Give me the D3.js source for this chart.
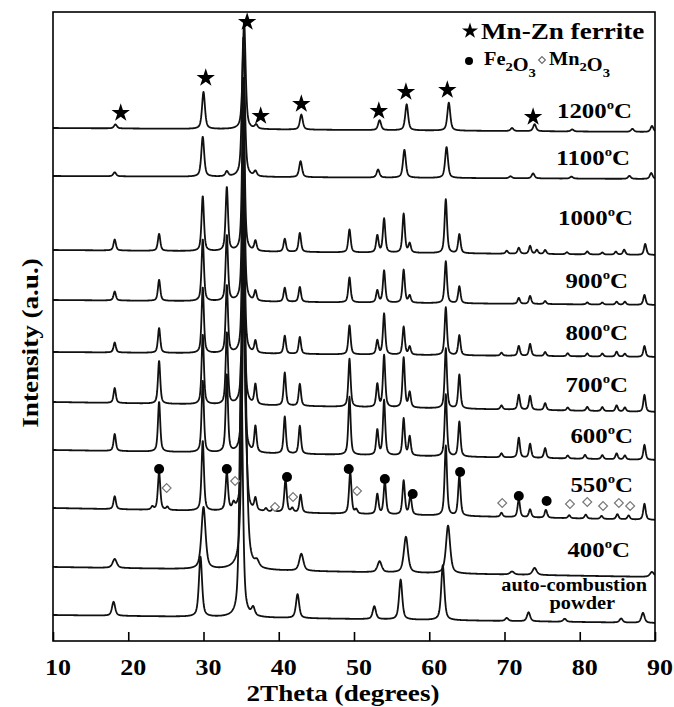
<!DOCTYPE html>
<html>
<head>
<meta charset="utf-8">
<script src="https://cdn.jsdelivr.net/npm/d3@7"></script>
<style>
  body { margin: 0; background: #fff; }
  text { font-family: "Liberation Serif", "Times New Roman", serif; font-weight: bold; fill: #000; }
</style>
</head>
<body>
<svg id="chart" width="674" height="707"></svg>
<script>
// ---- data (2theta in degrees, intensity in a.u.) ----
const xTicks = [10, 20, 30, 40, 50, 60, 70, 80, 90];

const sampleNames = ["auto-combustion powder", "400", "550", "600", "700", "800", "900", "1000", "1100", "1200"];
const baseStart = [26, 74, 133, 191, 239, 289, 341, 391, 465, 513];
const baseEnd = [18, 64, 121, 181, 229, 284, 336, 386, 462, 509];
const peakWidth = [0.5, 0.65, 0.38, 0.36, 0.36, 0.36, 0.37, 0.38, 0.45, 0.46];

const peaksAuto = [[18.05, 14], [29.6, 60], [35.0, 260], [36.6, 8], [42.5, 24], [52.7, 13], [56.2, 40],
  [61.8, 55], [70.3, 3], [73.2, 9], [78.0, 3], [85.5, 4], [88.4, 10]];
const peaks400 = [[18.2, 9], [30.0, 62], [35.4, 280], [37.1, 6], [43.0, 17], [53.4, 11], [56.9, 36],
  [62.5, 48], [71.0, 3], [74.0, 7], [89.6, 5]];
const peaks550 = [[18.2, 13], [23.2, 3], [24.1, 38], [25.2, 3], [29.9, 70], [33.1, 38], [34.0, 6],
  [35.3, 300], [35.7, 30], [36.9, 12], [38.3, 3], [39.3, 4], [40.9, 33], [41.8, 4], [42.9, 18],
  [49.5, 42], [50.3, 4], [53.1, 20], [54.1, 33], [56.6, 34], [57.5, 19], [62.2, 70], [64.0, 40],
  [69.6, 4], [71.9, 18], [73.4, 8], [75.5, 8], [78.6, 3], [80.8, 4], [82.9, 3], [85.0, 5], [86.5, 4], [88.6, 16]];
const peaks600 = [[18.2, 17], [24.1, 50], [29.9, 72], [33.1, 78], [35.3, 260], [36.9, 26], [40.8, 37],
  [42.8, 28], [49.4, 58], [53.1, 25], [54.0, 55], [56.6, 37], [57.4, 19], [62.2, 62], [64.0, 35],
  [69.6, 4], [71.9, 20], [73.4, 14], [75.4, 10], [78.4, 3], [80.7, 4], [83.0, 4], [84.9, 6], [86.0, 4], [88.6, 15]];
const peaks700 = [[18.2, 15], [24.1, 43], [29.9, 70], [33.1, 72], [35.3, 240], [36.9, 20], [40.8, 33],
  [42.8, 22], [49.4, 48], [53.1, 23], [54.0, 52], [56.6, 50], [57.4, 15], [62.2, 60], [64.0, 34],
  [69.6, 4], [71.9, 15], [73.4, 14], [75.4, 7], [78.4, 3], [81.0, 4], [83.0, 4], [84.9, 6], [86.0, 4], [88.6, 17]];
const peaks800 = [[18.2, 10], [24.1, 25], [29.9, 66], [33.1, 68], [35.3, 220], [36.9, 12], [40.8, 18],
  [42.8, 17], [49.4, 29], [53.1, 14], [54.0, 41], [56.6, 28], [57.4, 8], [62.2, 48], [64.0, 20],
  [69.6, 3], [71.9, 10], [73.4, 12], [75.4, 4], [78.4, 3], [81.0, 3], [83.0, 3], [84.9, 5], [86.0, 3], [88.6, 11]];
const peaks900 = [[18.2, 9], [24.1, 21], [29.9, 62], [33.1, 66], [35.3, 200], [36.9, 10], [40.8, 14],
  [42.8, 15], [49.4, 25], [53.1, 12], [54.0, 32], [56.6, 33], [57.4, 7], [62.2, 42], [64.0, 17],
  [71.9, 6], [73.4, 8], [75.4, 3], [81.0, 2], [83.0, 2], [84.9, 3], [86.0, 3], [88.6, 10]];
const peaks1000 = [[18.2, 11], [24.1, 17], [29.9, 55], [33.1, 64], [35.3, 175], [36.9, 10], [40.8, 13],
  [42.8, 19], [49.4, 23], [53.1, 17], [54.0, 34], [56.6, 39], [57.4, 9], [62.2, 54], [64.0, 19],
  [70.3, 3], [71.9, 6], [73.4, 8], [74.3, 4], [75.4, 4], [78.3, 2], [81.0, 3], [83.0, 2], [84.8, 3], [85.9, 5], [88.7, 11]];
const peaks1100 = [[18.2, 4], [29.9, 40], [33.1, 5], [35.3, 140], [36.9, 5], [42.9, 16], [53.2, 8],
  [56.7, 28], [62.3, 31], [70.8, 2], [73.8, 5], [78.9, 2], [86.6, 3], [89.5, 6]];
const peaks1200 = [[18.3, 4], [30.0, 37], [35.4, 108], [37.0, 4], [43.0, 15], [53.4, 10], [57.0, 26],
  [62.6, 28], [71.0, 3], [74.0, 7], [79.0, 2], [87.0, 3], [89.6, 6]];

const peakLists = [peaksAuto, peaks400, peaks550, peaks600, peaks700, peaks800, peaks900, peaks1000, peaks1100, peaks1200];

// phase markers: [2theta, intensity level]
const ferriteStars = [[19.0, 528], [30.3, 563], [35.8, 619], [37.6, 525], [43.0, 537], [53.3, 530],
  [56.9, 549], [62.4, 551], [73.8, 524]];
const fe2o3Dots = [[24.1, 172], [33.1, 172], [41.1, 164], [49.3, 172], [54.1, 162], [57.8, 147],
  [64.1, 169], [71.9, 145], [75.6, 140]];
const mn2o3Diamonds = [[25.1, 153], [34.2, 160], [39.5, 134], [41.9, 144], [50.4, 150], [69.7, 138],
  [78.7, 137], [81.0, 139], [83.1, 135], [85.2, 138], [86.7, 135]];

// temperature labels (level of text baseline, a.u.)
const tempLabels = ["400", "550", "600", "700", "800", "900", "1000", "1100", "1200"];
const tempLevels = [84, 149, 198, 249, 301, 353, 416, 476, 523];
const tempRight = [630, 633, 633, 628, 628, 628, 633, 630, 632];

// ---- layout ----
const svg = d3.select("#chart");
const plotLeft = 53, plotRight = 655, plotTop = 12, plotBottom = 641;
const sx = 1.13; // horizontal stretch of the serif lettering

const x = d3.scaleLinear().domain([10, 90]).range([plotLeft, plotRight]);
const y = d3.scaleLinear().domain([0, 629]).range([plotBottom, plotTop]);

svg.append("defs").append("clipPath").attr("id", "plot-clip")
  .append("rect").attr("x", plotLeft).attr("y", plotTop)
  .attr("width", plotRight - plotLeft).attr("height", plotBottom - plotTop);

const grid = d3.range(10, 90.0001, 0.04);

// pseudo-Voigt peak profile over a sloping background
function profile(peaks, w, b0, b1) {
  return grid.map(t => {
    let v = b0 + (b1 - b0) * (t - 10) / 80;
    for (const [c, h] of peaks) {
      const d = (t - c) / w;
      const q = 4 * d * d;
      v += h * (0.4 * Math.exp(-Math.LN2 * q) + 0.6 / (1 + q));
    }
    return [t, v];
  });
}

const line = d3.line().x(d => x(d[0])).y(d => y(d[1]));

const traces = svg.append("g").attr("clip-path", "url(#plot-clip)");
peakLists.forEach((peaks, i) => {
  traces.append("path")
    .datum(profile(peaks, peakWidth[i], baseStart[i], baseEnd[i]))
    .attr("fill", "none")
    .attr("stroke", "#111")
    .attr("stroke-width", 1.8)
    .attr("stroke-linejoin", "round")
    .attr("d", line);
});

// frame and ticks
svg.append("rect")
  .attr("x", plotLeft).attr("y", plotTop)
  .attr("width", plotRight - plotLeft).attr("height", plotBottom - plotTop)
  .attr("fill", "none").attr("stroke", "#000").attr("stroke-width", 1.6);

const axis = svg.append("g").attr("transform", `translate(0,${plotBottom})`)
  .call(d3.axisBottom(x).tickValues(xTicks).tickSize(-9).tickFormat(""));
axis.select(".domain").remove();
axis.selectAll("line").attr("stroke", "#000").attr("stroke-width", 1.6);

function stretchedText(px, py, size, anchor) {
  return svg.append("text")
    .attr("transform", `translate(${px},${py}) scale(${sx},1)`)
    .attr("font-size", size)
    .attr("text-anchor", anchor);
}

xTicks.forEach(t => {
  stretchedText(x(t) + 5, 675, 23, "middle").text(t);
});

stretchedText(343, 701, 24, "middle").text("2Theta (degrees)");

svg.append("text")
  .attr("transform", `translate(38,343) rotate(-90) scale(${sx},1)`)
  .attr("font-size", 24)
  .attr("text-anchor", "middle")
  .text("Intensity (a.u.)");

// phase markers
const star = d3.symbol().type(d3.symbolStar);
svg.append("g").selectAll("path").data(ferriteStars).join("path")
  .attr("transform", d => `translate(${x(d[0])},${y(d[1])})`)
  .attr("d", star.size(105)())
  .attr("fill", "#000");

svg.append("g").selectAll("circle").data(fe2o3Dots).join("circle")
  .attr("cx", d => x(d[0])).attr("cy", d => y(d[1])).attr("r", 5)
  .attr("fill", "#000");

const diamond = d3.symbol().type(d3.symbolDiamond2);
svg.append("g").selectAll("path").data(mn2o3Diamonds).join("path")
  .attr("transform", d => `translate(${x(d[0])},${y(d[1])})`)
  .attr("d", diamond.size(50)())
  .attr("fill", "#fff").attr("stroke", "#777").attr("stroke-width", 1.2);

// temperature labels
tempLabels.forEach((lab, i) => {
  const t = stretchedText(tempRight[i], y(tempLevels[i]), 22, "end");
  t.append("tspan").text(lab);
  t.append("tspan").attr("font-size", 13).attr("dy", -9).text("o");
  t.append("tspan").attr("dy", 9).text("C");
});
stretchedText(647, y(50), 18, "end").text("auto-combustion");
stretchedText(615, y(32), 18, "end").text("powder");

// legend
svg.append("path")
  .attr("transform", "translate(470,31)")
  .attr("d", star.size(80)())
  .attr("fill", "#000");
stretchedText(481, 39, 24, "start").text("Mn-Zn ferrite");

svg.append("circle").attr("cx", 469).attr("cy", 61).attr("r", 4).attr("fill", "#000");
function formula(px, parts) {
  const t = stretchedText(px, 65, 18, "start");
  parts.forEach(([s, sub]) => {
    t.append("tspan").text(s);
    t.append("tspan").attr("font-size", 13).attr("dy", 6).text(sub);
    t.append("tspan").attr("dy", -6).text("");
  });
  return t;
}
formula(484, [["Fe", "2"], ["O", "3"]]);
svg.append("path")
  .attr("transform", "translate(542,60)")
  .attr("d", diamond.size(30)())
  .attr("fill", "#fff").attr("stroke", "#666").attr("stroke-width", 1.1);
formula(549, [["Mn", "2"], ["O", "3"]]);
</script>
</body>
</html>
